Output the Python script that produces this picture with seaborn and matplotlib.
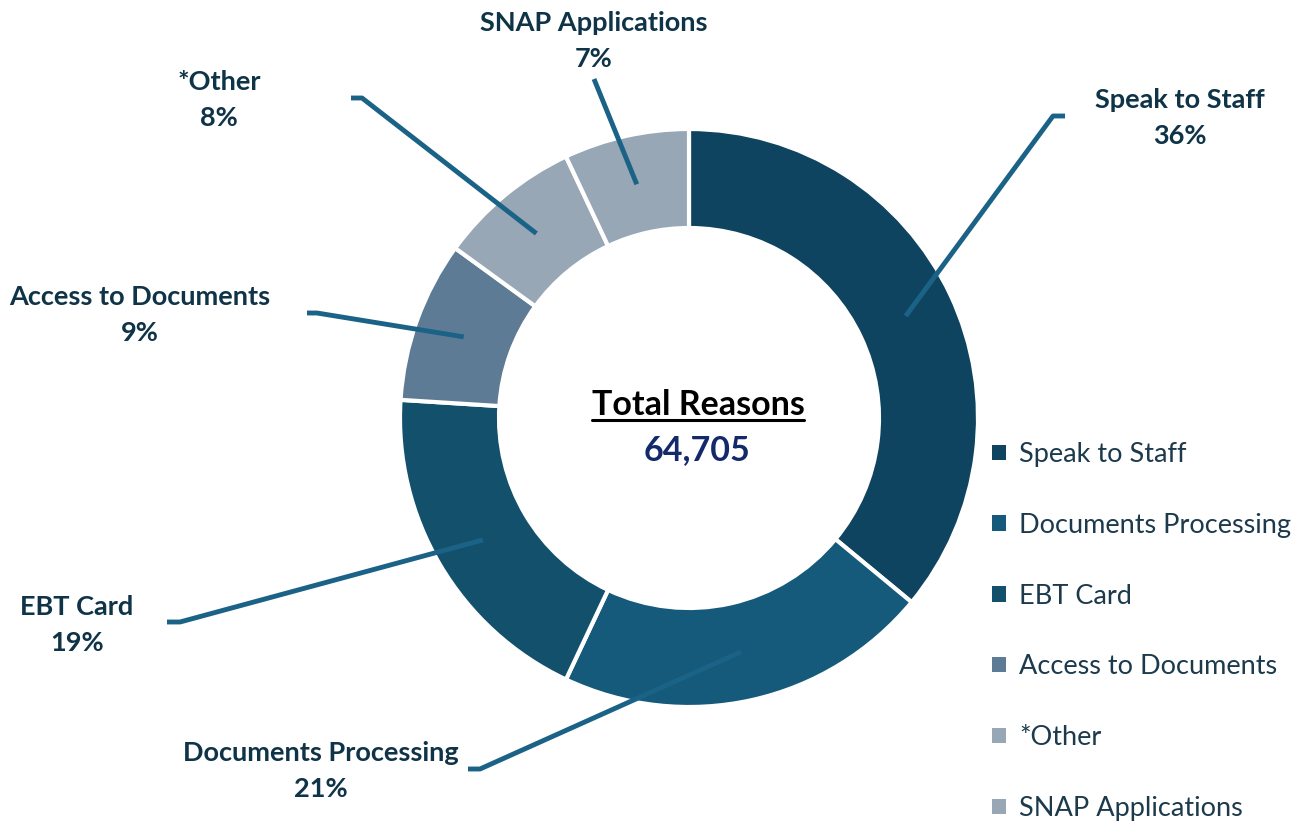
import numpy as np
import seaborn as sns
import matplotlib.pyplot as plt

# data
reasons = ['Speak to Staff', 'Documents Processing', 'EBT Card',
           'Access to Documents', '*Other', 'SNAP Applications']
pct = [36, 21, 19, 9, 8, 7]
total = '64,705'

colors = ['#0e445f', '#155a7b', '#12506c', '#5d7b95', '#97a7b6', '#97a7b6']
line_col = '#1b6287'
txt_col = '#0f3347'

sns.set_theme(style='white')
plt.rcParams['font.family'] = ['Lato', 'DejaVu Sans']

W, H = 1301, 821
fig = plt.figure(figsize=(W / 100, H / 100), dpi=100)
ax = fig.add_axes([0, 0, 1, 1])

cx, cy, R, ring = 689, H - 418, 289, 99
wedges, _ = ax.pie(pct, colors=colors, startangle=90, counterclock=False,
                   center=(cx, cy), radius=R,
                   wedgeprops=dict(width=ring, edgecolor='white', linewidth=3))
ax.set_xlim(0, W)
ax.set_ylim(0, H)
ax.set_aspect('equal')
ax.axis('off')

# leader elbows / label spots (pixel coords, y from top)
elbows = [(1053, 116, 1065), (480, 769, 468), (180, 622, 167),
          (317, 313, 307), (362, 98, 351), (594, 79, None)]
label_pos = [(1180, 100), (321, 753), (77, 607), (140, 297), (219, 82), (594, 23)]

for w, name, p, (ex, ey, hx), (lx, ly) in zip(wedges, reasons, pct, elbows, label_pos):
    mid = np.deg2rad((w.theta1 + w.theta2) / 2)
    rm = R - ring / 2
    x0, y0 = cx + rm * np.cos(mid), cy + rm * np.sin(mid)
    xs, ys = [x0, ex], [y0, H - ey]
    if hx is not None:
        xs.append(hx)
        ys.append(H - ey)
    ax.plot(xs, ys, color=line_col, lw=3.5, solid_capstyle='butt', zorder=5)
    ax.text(lx, H - ly, name, ha='center', va='center', fontsize=19.5,
            fontweight='bold', color=txt_col)
    ax.text(lx, H - ly - 36, f'{p}%', ha='center', va='center', fontsize=19.5,
            fontweight='bold', color=txt_col)

# centre text
t = ax.text(698, H - 405, 'Total Reasons', ha='center', va='center',
            fontsize=24.5, fontweight='bold', color='black')
ax.text(697, H - 450, total, ha='center', va='center', fontsize=24.5,
        fontweight='bold', color='#14296a')
fig.canvas.draw()
bb = t.get_window_extent(fig.canvas.get_renderer())
ax.plot([bb.x0, bb.x1], [bb.y0 + 1, bb.y0 + 1], color='black', lw=2.2)

leg = ax.legend(wedges, reasons, loc='upper left', bbox_to_anchor=(992 / W, 1 - 442 / H),
                frameon=False, fontsize=19.5, labelspacing=1.69,
                handlelength=0.5, handleheight=0.5, handletextpad=0.5,
                borderpad=0, borderaxespad=0)
for txt in leg.get_texts():
    txt.set_color('#1c3a4c')
for h in leg.legend_handles:
    h.set_edgecolor('none')

fig.savefig('out.png', dpi=100)
